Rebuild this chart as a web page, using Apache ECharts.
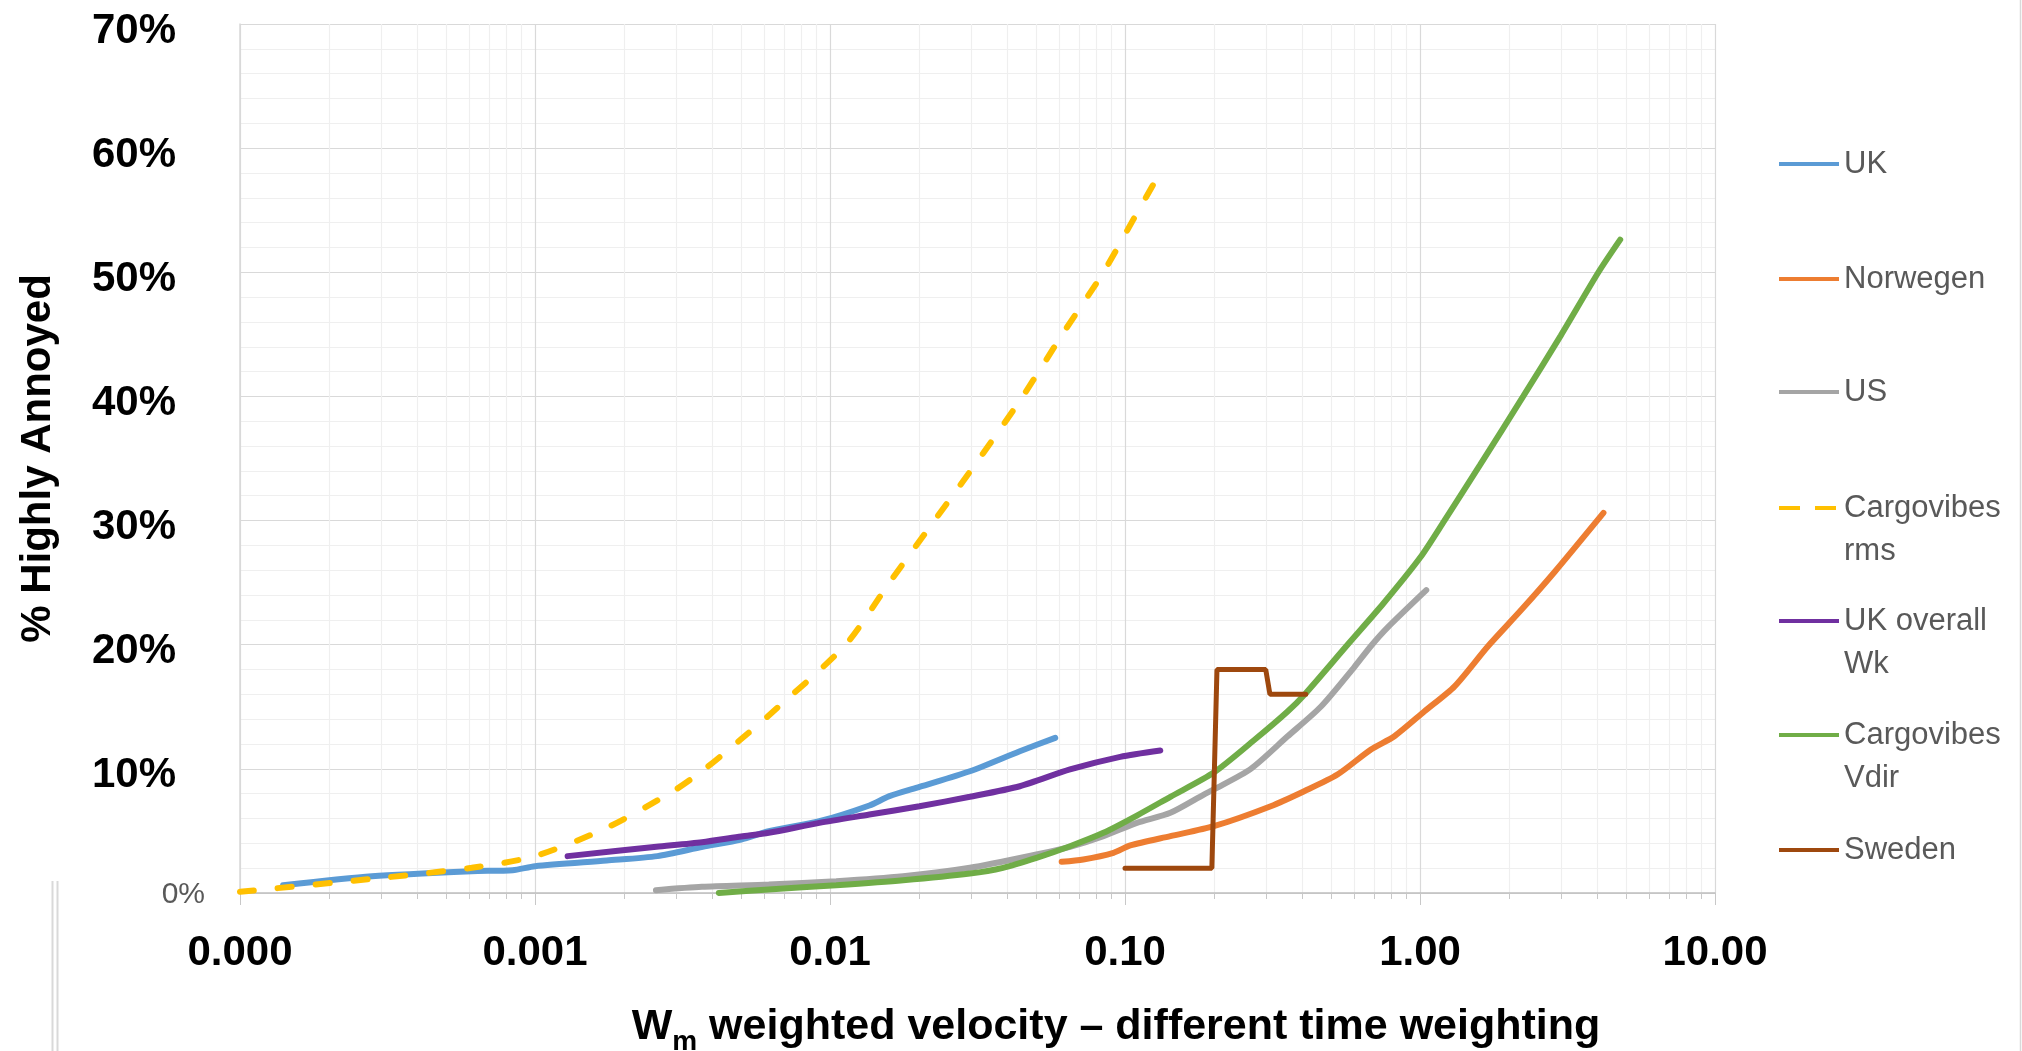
<!DOCTYPE html>
<html>
<head>
<meta charset="utf-8">
<title>% Highly Annoyed</title>
<script src="https://cdn.jsdelivr.net/npm/echarts@6/dist/echarts.min.js"></script>
<style>
    html, body { margin: 0; padding: 0; width: 100%; height: 100%; background: #fff; overflow: hidden; }
    #main { width: 2022px; height: 1051px; }
</style>
</head>
<body>
<div id="main"></div>
<script>
    // names in legend order
    const seriesNames = ['UK', 'Norwegen', 'US', 'Cargovibes rms', 'UK overall Wk', 'Cargovibes Vdir', 'Sweden'];
    const legendText = ['UK', 'Norwegen', 'US', 'Cargovibes\nrms', 'UK overall\nWk', 'Cargovibes\nVdir', 'Sweden'];
    const xTickLabels = ['0.000', '0.001', '0.01', '0.10', '1.00', '10.00'];

    // [weighted velocity, % highly annoyed]
    const ukData = [[0.00014, 0.63], [0.00028, 1.35], [0.00061, 1.76], [0.00084, 1.84], [0.001, 2.16], [0.00175, 2.62],
        [0.0026, 2.97], [0.0037, 3.72], [0.005, 4.31], [0.0062, 4.98], [0.0092, 5.78], [0.0136, 7.05], [0.0159, 7.8],
        [0.0201, 8.55], [0.0298, 9.81], [0.044, 11.42], [0.058, 12.5]];
    const norwegenData = [[0.061, 2.51], [0.0722, 2.7], [0.0914, 3.24], [0.1042, 3.83], [0.1425, 4.58], [0.2, 5.38],
        [0.312, 6.99], [0.405, 8.2], [0.525, 9.54], [0.682, 11.56], [0.819, 12.63], [1.036, 14.64], [1.31, 16.65],
        [1.7, 19.88], [2.21, 22.83], [2.868, 25.9], [4.187, 30.62]];
    const usData = [[0.00257, 0.23], [0.00368, 0.5], [0.0062, 0.68], [0.0105, 0.95], [0.0177, 1.35], [0.0298, 2.03],
        [0.0501, 3.1], [0.0651, 3.72], [0.0845, 4.58], [0.1097, 5.65], [0.1425, 6.46], [0.185, 7.93], [0.2, 8.34],
        [0.267, 10], [0.355, 12.6], [0.461, 15.0], [0.599, 18.2], [0.682, 19.9], [0.777, 21.4], [1.05, 24.4]];
    const rmsData = [[0.0001, 0.1], [0.00028, 1.14], [0.00061, 2.03], [0.001, 2.97], [0.00175, 5.25], [0.00294, 8.2],
        [0.00377, 10], [0.005, 12.4], [0.0062, 14.3], [0.0113, 20], [0.0159, 25], [0.0226, 30], [0.033, 35.4],
        [0.045, 40], [0.0625, 45.3], [0.0845, 50], [0.107, 54.3], [0.1317, 58.05]];
    const ukWkData = [[0.00129, 2.97], [0.00258, 3.72], [0.00368, 4.09], [0.005, 4.55], [0.0062, 4.85], [0.0092, 5.65],
        [0.0136, 6.32], [0.0201, 6.99], [0.0298, 7.75], [0.044, 8.6], [0.0651, 9.95], [0.0963, 10.97], [0.1317, 11.48]];
    const vdirData = [[0.0042, 0], [0.0062, 0.28], [0.0105, 0.63], [0.0177, 1.03], [0.0298, 1.57], [0.0386, 2.03],
        [0.0501, 2.83], [0.0651, 3.77], [0.0845, 4.85], [0.1097, 6.24], [0.1425, 7.75], [0.2, 9.7], [0.2736, 12.3],
        [0.355, 14.6], [0.41, 16.1], [0.568, 20], [0.75, 23.3], [1.0, 27.0], [1.21, 30], [1.6, 34.5], [2.237, 40],
        [3.0, 44.9], [4.025, 50], [4.771, 52.63]];
    const swedenData = [[0.1, 2], [0.197, 2], [0.205, 18], [0.3, 18], [0.31, 16], [0.41, 16]];

    const allData = [ukData, norwegenData, usData, rmsData, ukWkData, vdirData, swedenData];
    const colors = ['#5B9BD5', '#ED7D31', '#A5A5A5', '#FFC000', '#7030A0', '#70AD47', '#9E480E'];
    const legendCenters = [164, 279, 392, 508, 621, 735, 850];

    const FONT = 'Liberation Sans, Arial, sans-serif';

    let myChart = echarts.init(document.getElementById('main'));

    const series = seriesNames.map((name, i) => ({
        name: name,
        type: 'line',
        data: allData[i],
        symbol: 'none',
        smooth: i === 6 ? false : 0.25,
        color: colors[i],
        lineStyle: {
            width: i === 6 ? 5 : 6,
            color: colors[i],
            type: i === 3 ? [14, 24] : 'solid',
            cap: 'round'
        },
        z: 2 + i
    }));

    // one legend per entry so the two-line labels keep the line next to their first row
    const legends = seriesNames.map((name, i) => {
        const multi = legendText[i].indexOf('\n') >= 0;
        return {
            data: [name],
            left: 1777,
            top: legendCenters[i] - (multi ? 64.5 : 21.5),
            orient: 'vertical',
            padding: 0,
            itemWidth: 60,
            itemHeight: 4,
            itemGap: 0,
            selectedMode: false,
            itemStyle: { opacity: 0 },
            lineStyle: { width: 4, cap: 'butt', type: i === 3 ? [21, 15] : 'solid' },
            formatter: () => (multi ? ' \n' : '') + legendText[i],
            textStyle: {
                fontFamily: FONT,
                fontSize: 31,
                color: '#595959',
                lineHeight: 43
            }
        };
    });

    const option = {
        animation: false,
        backgroundColor: '#fff',
        grid: { left: 240, right: 307, top: 24, bottom: 158 },
        legend: legends,
        xAxis: {
            type: 'log',
            logBase: 10,
            min: 0.0001,
            max: 10,
            axisLine: { show: true, lineStyle: { color: '#bfbfbf', width: 1.5 } },
            axisTick: { show: true, length: 12, lineStyle: { color: '#c8c8c8' } },
            minorTick: { show: true, splitNumber: 9, length: 6, lineStyle: { color: '#c8c8c8' } },
            splitLine: { show: true, lineStyle: { color: '#d9d9d9', width: 1.2 } },
            minorSplitLine: { show: true, lineStyle: { color: '#efefef', width: 1.2 } },
            axisLabel: {
                margin: 39,
                fontFamily: FONT,
                fontSize: 42,
                fontWeight: 'bold',
                color: '#000',
                showMinLabel: true,
                showMaxLabel: true,
                formatter: v => xTickLabels[Math.round(Math.log10(v)) + 4]
            }
        },
        yAxis: {
            type: 'value',
            min: 0,
            max: 70,
            interval: 10,
            name: '% Highly Annoyed',
            nameLocation: 'middle',
            nameGap: 181,
            nameTextStyle: { fontFamily: FONT, fontSize: 42, fontWeight: 'bold', color: '#000' },
            axisLine: { show: true, lineStyle: { color: '#d9d9d9', width: 1.5 } },
            axisTick: { show: false },
            minorTick: { show: false, splitNumber: 5 },
            splitLine: { show: true, lineStyle: { color: '#d9d9d9', width: 1.2 } },
            minorSplitLine: { show: true, lineStyle: { color: '#efefef', width: 1.2 } },
            axisLabel: {
                margin: 35,
                formatter: v => v === 0 ? '{z|0%}' : '{b|' + v + '%}',
                rich: {
                    b: { fontFamily: FONT, fontSize: 42, fontWeight: 'bold', color: '#000', padding: [14, 29, 0, 0] },
                    z: { fontFamily: FONT, fontSize: 30, color: '#595959', padding: [4, 0, 0, 0] }
                }
            }
        },
        graphic: [
            {
                type: 'text',
                x: 1116,
                y: 1031,
                style: {
                    text: '{a|W}{s|m}{a| weighted velocity \u2013 different time weighting}',
                    align: 'center',
                    verticalAlign: 'middle',
                    rich: {
                        a: { fontFamily: FONT, fontSize: 43, fontWeight: 'bold', fill: '#000', verticalAlign: 'top', lineHeight: 43 },
                        s: { fontFamily: FONT, fontSize: 28, fontWeight: 'bold', fill: '#000', verticalAlign: 'top', padding: [22, 0, 0, 0] }
                    }
                }
            },
            { type: 'line', shape: { x1: 2020.5, y1: 0, x2: 2020.5, y2: 1051 }, style: { stroke: '#d9d9d9', lineWidth: 1.5 } },
            { type: 'line', shape: { x1: 52.5, y1: 881, x2: 52.5, y2: 1051 }, style: { stroke: '#d9d9d9', lineWidth: 2 } },
            { type: 'line', shape: { x1: 57.5, y1: 881, x2: 57.5, y2: 1051 }, style: { stroke: '#d9d9d9', lineWidth: 2 } }
        ],
        series: series
    };

    myChart.setOption(option);
    window.addEventListener('resize', () => myChart.resize());
</script>
</body>
</html>
